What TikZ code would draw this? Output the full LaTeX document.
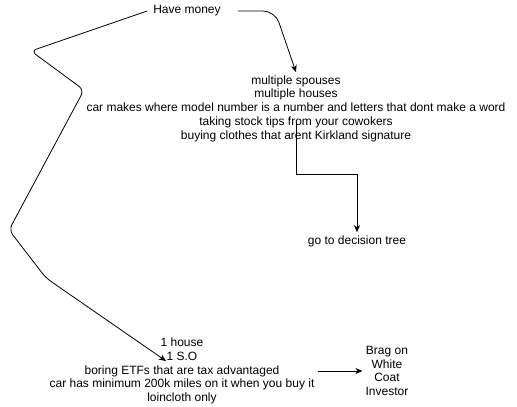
\documentclass[tikz,border=0pt]{standalone}
\usepackage{fontspec}
\setmainfont{Liberation Sans}
\usetikzlibrary{arrows.meta,positioning}
\tikzset{
  txt/.style ={align=center, inner sep=3pt, font=\fontsize{12}{13.8}\selectfont},
  arr/.style ={-{Stealth[length=7pt,width=6pt,inset=2pt]}, line width=0.8pt},
}

\begin{document}
\begin{tikzpicture}[x=1pt, y=-1pt]
  \useasboundingbox (0,0) rectangle (517,407);
  \node[txt] (money) at (187,11) {Have money};
  \node[txt] (rich) at (296,108.5) {multiple spouses\\multiple houses\\car makes where model number is a number and letters that dont make a word\\taking stock tips from your cowokers\\buying clothes that arent Kirkland signature};
  \node[txt] (tree) at (357,241) {go to decision tree};
  \node[txt] (frugal) at (182,371) {1 house\\1 S.O\\boring ETFs that are tax advantaged\\car has minimum 200k miles on it when you buy it\\loincloth only};
  \node[txt] (brag) at (387,371) {Brag on\\White\\Coat\\Investor};
  \coordinate (richout) at (296,122);
  \coordinate (frugalin) at (166,361);
  \draw[arr, rounded corners=12pt] ([xshift=14pt]money.east) -- (275,11) -- (rich.north);
  \draw[arr, rounded corners=6pt] ([xshift=-3pt]money.west) -- (31,51) -- (84,90) -- (9,230) -- (46,278) -- (frugalin);
  \draw[arr] (richout) -- ++(0,52) -| (tree.north);
  \draw[arr] (frugal.east) -- (brag.west |- frugal.east);
\end{tikzpicture}
\end{document}
